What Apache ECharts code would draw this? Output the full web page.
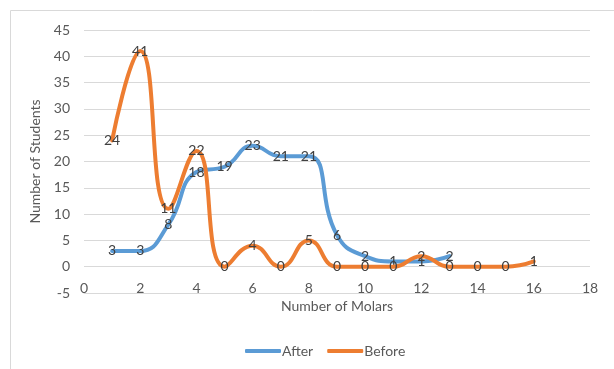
<!DOCTYPE html>
<html><head><meta charset="utf-8">
<script src="https://cdn.jsdelivr.net/npm/echarts@6/dist/echarts.min.js"></script>
<style>html,body{margin:0;padding:0;background:#fff}#c{width:614px;height:369px}</style>
</head><body><div id="c"></div>
<script>
const molarsAfter = [1,2,3,4,5,6,7,8,9,10,11,12,13];
const afterValues = [3,3,8,18,19,23,21,21,6,2,1,1,2];
const molarsBefore = [1,2,3,4,5,6,7,8,9,10,11,12,13,14,15,16];
const beforeValues = [24,41,11,22,0,4,0,5,0,0,0,2,0,0,0,1];
const seriesNames = ['After','Before'];
const xTitle = 'Number of Molars';
const yTitle = 'Number of Students';

const font = 'Lato, "Open Sans", sans-serif';
const chart = echarts.init(document.getElementById('c'), null, {renderer:'canvas'});
function pairs(xs, ys){ return xs.map((x,i)=>[x, ys[i]]); }
function mkSeries(name, data, color, z){
  return {
    name, type:'line', data, smooth:0.5, smoothConstraint:false,
    symbol:'circle', symbolSize:1, showSymbol:true,
    itemStyle:{color},
    lineStyle:{color, width:4, cap:'round', join:'round'},
    label:{show:true, position:'inside', color:'#404040', fontSize:14, fontFamily:font},
    labelLayout:{hideOverlap:false},
    emphasis:{disabled:true}, animation:false, z
  };
}
chart.setOption({
  animation:false,
  graphic:[{type:'rect', shape:{x:10.5,y:10.5,width:620,height:400}, style:{fill:null, stroke:'#d9d9d9', lineWidth:1}, silent:true}],
  grid:{left:84, right:24, top:30, bottom:76},
  legend:{
    bottom:6, left:240, itemWidth:36, itemHeight:4, itemGap:14,
    icon:'roundRect',
    textStyle:{color:'#595959', fontSize:14, fontFamily:font, padding:[0,0,0,-4]},
    data:seriesNames
  },
  xAxis:{
    type:'value', min:0, max:18, interval:2,
    name:xTitle, nameLocation:'middle', nameGap:5,
    nameTextStyle:{color:'#595959', fontSize:14, fontFamily:font},
    axisLine:{show:true, onZero:false, lineStyle:{color:'#d9d9d9', width:1}},
    axisTick:{show:false},
    axisLabel:{color:'#595959', fontSize:14, fontFamily:font, margin:-12},
    splitLine:{show:false}
  },
  yAxis:{
    type:'value', min:-5, max:45, interval:5,
    name:yTitle, nameLocation:'middle', nameGap:25,
    nameTextStyle:{color:'#595959', fontSize:14, fontFamily:font},
    axisLine:{show:false}, axisTick:{show:false},
    axisLabel:{color:'#595959', fontSize:14, fontFamily:font, margin:14},
    splitLine:{show:true, lineStyle:{color:'#d9d9d9', width:1}}
  },
  series:[
    mkSeries(seriesNames[0], pairs(molarsAfter, afterValues), '#5B9BD5', 2),
    mkSeries(seriesNames[1], pairs(molarsBefore, beforeValues), '#ED7D31', 3)
  ]
});
</script></body></html>
